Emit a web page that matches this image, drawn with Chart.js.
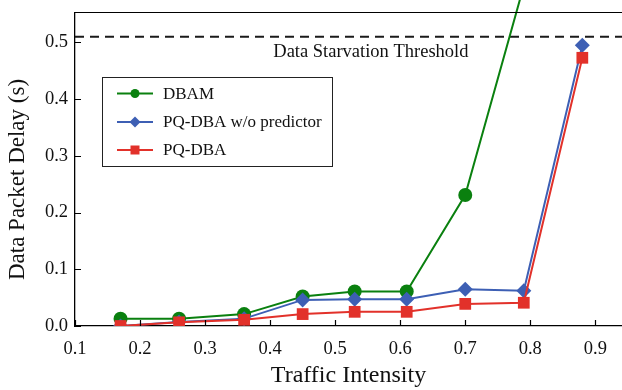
<!DOCTYPE html>
<html>
<head>
<meta charset="utf-8">
<script src="https://cdn.jsdelivr.net/npm/chart.js@4/dist/chart.umd.min.js"></script>
<style>
  html, body { margin: 0; padding: 0; background: #fff; }
  #wrap { width: 622px; height: 390px; }
</style>
</head>
<body>
<div id="wrap"><canvas id="delay"></canvas></div>
<script>
// traffic intensity on the x axis
const intensity = [0.17, 0.26, 0.36, 0.45, 0.53, 0.61, 0.70, 0.79, 0.88];
// data packet delay (s)
const dbam = [0.013, 0.013, 0.021, 0.052, 0.061, 0.061, 0.231, 0.60];
const pqDbaNoPred = [0.0, 0.007, 0.013, 0.046, 0.047, 0.047, 0.065, 0.062, 0.495];
const pqDba = [0.0, 0.0065, 0.011, 0.021, 0.025, 0.025, 0.039, 0.041, 0.473];
const threshold = 0.51;
const thresholdLabel = 'Data Starvation Threshold';

const xTicks = [0.1, 0.2, 0.3, 0.4, 0.5, 0.6, 0.7, 0.8, 0.9];
const yTicks = [0.0, 0.1, 0.2, 0.3, 0.4, 0.5];

const serif = '"Liberation Serif", "DejaVu Serif", serif';

function pts(xs, ys) {
    return ys.map((y, i) => ({x: xs[i], y: y}));
}

const green = '#0a800f';
const blue = '#3d5fb4';
const red = '#e2312a';

// no extra room for the outer tick labels
function noPad(s) {
    s.paddingLeft = 0; s.paddingRight = 0;
    s.paddingTop = 0; s.paddingBottom = 0;
}

// inward tick marks, top frame line, threshold text, y title, legend box
const decor = {
    id: 'decor',
    afterDraw(chart) {
        const ctx = chart.ctx;
        const a = chart.chartArea;
        const xs = chart.scales.x, ys = chart.scales.y;
        ctx.save();
        ctx.strokeStyle = '#000';
        ctx.lineWidth = 1.2;
        ctx.beginPath();
        ctx.moveTo(a.left, Math.round(a.top) - 0.5);
        ctx.lineTo(a.right, Math.round(a.top) - 0.5);
        xTicks.forEach(v => {
            const px = Math.round(xs.getPixelForValue(v)) + 0.5;
            ctx.moveTo(px, a.bottom);
            ctx.lineTo(px, a.bottom - 6);
        });
        yTicks.forEach(v => {
            const py = Math.round(ys.getPixelForValue(v)) + 0.5;
            ctx.moveTo(a.left, py);
            ctx.lineTo(a.left + 6, py);
        });
        ctx.stroke();

        ctx.fillStyle = '#111';
        ctx.font = '18.5px ' + serif;
        ctx.textAlign = 'right';
        ctx.textBaseline = 'middle';
        ctx.fillText(thresholdLabel, xs.getPixelForValue(0.705), ys.getPixelForValue(threshold) + 15.5);

        // y axis title
        ctx.save();
        ctx.translate(18, (a.top + a.bottom) / 2 + 10);
        ctx.rotate(-Math.PI / 2);
        ctx.textAlign = 'center';
        ctx.font = '23px ' + serif;
        ctx.fillText('Data Packet Delay (s)', 0, 0);
        ctx.restore();

        // legend
        const bx = 102, by = 77, bw = 230, bh = 89;
        ctx.fillStyle = '#fff';
        ctx.fillRect(bx, by, bw, bh);
        ctx.strokeStyle = '#222';
        ctx.lineWidth = 1;
        ctx.strokeRect(bx + 0.5, by + 0.5, bw, bh);
        const rows = [93.5, 122, 150];
        const sets = chart.data.datasets.filter(d => d.inLegend);
        sets.forEach((d, i) => {
            const y = rows[i];
            ctx.strokeStyle = d.borderColor;
            ctx.fillStyle = d.backgroundColor;
            ctx.lineWidth = 2;
            ctx.beginPath();
            ctx.moveTo(117, y);
            ctx.lineTo(153, y);
            ctx.stroke();
            const cx = 135;
            ctx.beginPath();
            if (d.pointStyle === 'circle') {
                ctx.arc(cx, y, 4.5, 0, Math.PI * 2);
            } else if (d.pointStyle === 'rectRot') {
                ctx.moveTo(cx, y - 5.5); ctx.lineTo(cx + 5.5, y);
                ctx.lineTo(cx, y + 5.5); ctx.lineTo(cx - 5.5, y);
                ctx.closePath();
            } else {
                ctx.rect(cx - 4.5, y - 4.5, 9, 9);
            }
            ctx.fill();
            ctx.fillStyle = '#111';
            ctx.font = '17px ' + serif;
            ctx.textAlign = 'left';
            ctx.textBaseline = 'middle';
            ctx.fillText(d.label, 163, y + 1);
        });
        ctx.restore();
    }
};

new Chart(document.getElementById('delay'), {
    type: 'line',
    data: {
        datasets: [
            {
                label: 'DBAM', inLegend: true, data: pts(intensity, dbam),
                borderColor: green, backgroundColor: green, pointStyle: 'circle',
                pointRadius: 7, pointBorderWidth: 0, borderWidth: 2, clip: false, order: 3
            },
            {
                label: 'PQ-DBA w/o predictor', inLegend: true, data: pts(intensity, pqDbaNoPred),
                borderColor: blue, backgroundColor: blue, pointStyle: 'rectRot',
                pointRadius: 7.5, pointBorderWidth: 0, borderWidth: 2, order: 2
            },
            {
                label: 'PQ-DBA', inLegend: true, data: pts(intensity, pqDba),
                borderColor: red, backgroundColor: red, pointStyle: 'rect',
                pointRadius: 8.3, pointBorderWidth: 0, borderWidth: 2, order: 1
            },
            {
                label: 'threshold', data: [{x: 0.1, y: threshold}, {x: 0.95, y: threshold}],
                borderColor: '#1a1a1a', borderWidth: 2, borderDash: [9, 6],
                pointRadius: 0, order: 4
            }
        ]
    },
    options: {
        responsive: true,
        maintainAspectRatio: false,
        animation: false,
        layout: {autoPadding: false, padding: {top: 13, right: 0, left: 0, bottom: 0}},
        plugins: {legend: {display: false}, tooltip: {enabled: false}},
        scales: {
            x: {
                type: 'linear', min: 0.1, max: 0.941,
                afterBuildTicks: s => { s.ticks = xTicks.map(v => ({value: v})); },
                afterFit: s => { s.height = 64; noPad(s); },
                grid: {drawOnChartArea: false, drawTicks: false},
                border: {color: '#000', width: 1.3},
                ticks: {
                    padding: 12, color: '#111', font: {family: serif, size: 18.5},
                    maxRotation: 0, callback: v => v.toFixed(1)
                },
                title: {
                    display: true, text: 'Traffic Intensity', color: '#111',
                    font: {family: serif, size: 24}, padding: {top: 0, bottom: 0}
                }
            },
            y: {
                min: 0, max: 0.552,
                afterBuildTicks: s => { s.ticks = yTicks.map(v => ({value: v})); },
                afterFit: s => { s.width = 75; noPad(s); },
                grid: {drawOnChartArea: false, drawTicks: false},
                border: {color: '#000', width: 1.3},
                ticks: {
                    padding: 7, color: '#111', font: {family: serif, size: 18.5},
                    callback: v => v.toFixed(1)
                }
            }
        }
    },
    plugins: [decor]
});
</script>
</body>
</html>
